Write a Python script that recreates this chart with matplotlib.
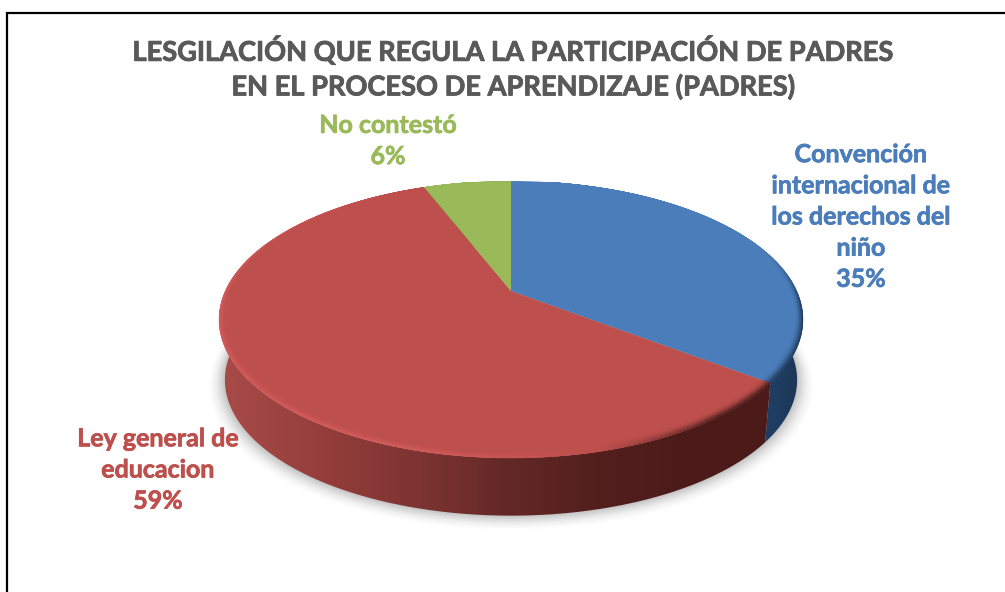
import numpy as np
from matplotlib import pyplot as plt
from matplotlib import patheffects as pe
from matplotlib.collections import PolyCollection
from matplotlib.colors import LinearSegmentedColormap, to_rgb
from matplotlib.patches import Polygon

title = "LESGILACIÓN QUE REGULA LA PARTICIPACIÓN DE PADRES\nEN EL PROCESO DE APRENDIZAJE (PADRES)"
labels = ["Convención\ninternacional de\nlos derechos del\nniño", "Ley general de\neducacion", "No contestó"]
values = [35.4, 58.7, 5.9]
colors = ["#4a7dba", "#bd4f4c", "#9aba59"]
label_pos = [(861, 217), (158, 470), (388, 141)]

# pie geometry, pixels
cx, cy = 511, 291
k = 0.206
a = 132.6
b = 285.7
depth = 61
bottom_scale = 0.98


def project(theta, r=1.0, scale=1.0, dy=0):
    # theta clockwise from the back of the pie, r=1 is the rim
    c = np.sin(theta) * r
    s = -np.cos(theta) * r
    w = 1 - k * s
    return cx + scale * b * c / w, cy + dy + scale * a * s / w


def arc(t0, t1, n=200, **kw):
    t = np.linspace(t0, t1, n)
    x, y = project(t, **kw)
    return np.column_stack([x, y])


def mix(col, other, f):
    col, other = np.array(to_rgb(col)), np.array(to_rgb(other))
    return tuple(col + (other - col) * f)


fig = plt.figure(figsize=(10.05, 5.92), dpi=100)
ax = fig.add_axes([0, 0, 1, 1])
ax.axis('off')

# frame round the chart, open on the right and at the bottom
ax.plot([6.5, 6.5, 1005], [592, 13, 13], color='black', lw=1.6, solid_joinstyle='miter')

angles = np.cumsum([0] + values) / sum(values) * 2 * np.pi

# soft shadow under the pie
for grow, al in zip(range(16, 0, -2), [0.012, 0.015, 0.02, 0.025, 0.03, 0.035, 0.04, 0.05]):
    pts = arc(0, 2 * np.pi, 300, scale=bottom_scale * (1 + grow / 290), dy=depth + grow * 0.3)
    ax.add_patch(Polygon(pts, closed=True, fc='black', ec='none', alpha=al, zorder=1))

# sides, shaded along x
side_cmaps = [
    LinearSegmentedColormap.from_list('b', ["#1f3d62", "#1f3d62", "#1b3452"]),
    LinearSegmentedColormap.from_list('r', ["#a84c49", "#963f3c", "#803533", "#642927", "#521f1d", "#4c1b19", "#4c1b19"]),
    LinearSegmentedColormap.from_list('g', ["#6f8a3c", "#5f7733"]),
]
side_x = {0: (750, 805), 1: (219, 785), 2: (420, 515)}
for i in range(len(values)):
    top = arc(angles[i], angles[i + 1])
    bot = arc(angles[i], angles[i + 1], scale=bottom_scale, dy=depth)
    poly = Polygon(np.vstack([top, bot[::-1]]), closed=True, fc='none', ec='none', transform=ax.transData)
    ax.add_patch(poly)
    x0, x1 = side_x[i]
    im = ax.imshow(np.linspace(0, 1, 256).reshape(1, -1), cmap=side_cmaps[i], aspect='auto',
                   extent=(x0, x1, 540, 150), zorder=2)
    im.set_clip_path(poly)

# top face
for i in range(len(values)):
    pts = np.vstack([[cx, cy], arc(angles[i], angles[i + 1])])
    ax.add_patch(Polygon(pts, closed=True, fc=colors[i], ec='none', zorder=3))

# bevel along the rim, light on the left, dark on the right
quads, quad_cols = [], []
for i in range(len(values)):
    t = np.linspace(angles[i], angles[i + 1], int(values[i] * 6) + 2)
    for t0, t1 in zip(t[:-1], t[1:]):
        tm = (t0 + t1) / 2
        front = 0.5 - 0.5 * np.cos(tm)
        width = 0.036 * front ** 0.7
        if width < 0.001:
            continue
        steps = 6
        for j in range(steps):
            r0 = 1 - width * j / steps
            r1 = 1 - width * (j + 1) / steps
            p0 = project(np.array([t0, t1]), r=r0)
            p1 = project(np.array([t1, t0]), r=r1)
            quads.append(np.column_stack([np.r_[p0[0], p1[0]], np.r_[p0[1], p1[1]]]))
            side = np.sin(tm)
            fade = (1 - (j + 0.5) / steps) ** 1.5
            if side < 0.25:
                f = min(1, (0.25 - side) / 0.5)
                quad_cols.append(mix(colors[i], "#e8686a", 0.6 * f * fade) if i == 1 else colors[i])
            else:
                f = min(1, (side - 0.25) / 0.35) * np.clip((front - 0.35) / 0.2, 0, 1)
                quad_cols.append(mix(colors[i], "#2a1010" if i == 1 else "#14263e", 0.85 * f * fade))
ax.add_collection(PolyCollection(quads, facecolors=quad_cols, edgecolors=quad_cols, linewidths=0.3, zorder=4))

# texts, the small stroke makes them as heavy as in the reference
font = ['Lato', 'DejaVu Sans']
ax.text(514, 68, title, ha='center', va='center', fontsize=19.6, fontweight='bold',
        color='#595959', family=font, linespacing=1.45, zorder=6,
        path_effects=[pe.withStroke(linewidth=0.6, foreground='#595959')])
for lab, v, col, pos in zip(labels, values, colors, label_pos):
    ax.text(pos[0], pos[1], f"{lab}\n{v:.0f}%", ha='center', va='center', fontsize=18, fontweight='bold',
            color=col, family=font, linespacing=1.43, zorder=6,
            path_effects=[pe.withStroke(linewidth=0.5, foreground=col)])

ax.set_xlim(0, 1005)
ax.set_ylim(592, 0)

fig.savefig("out.png", dpi=100, facecolor='white')
